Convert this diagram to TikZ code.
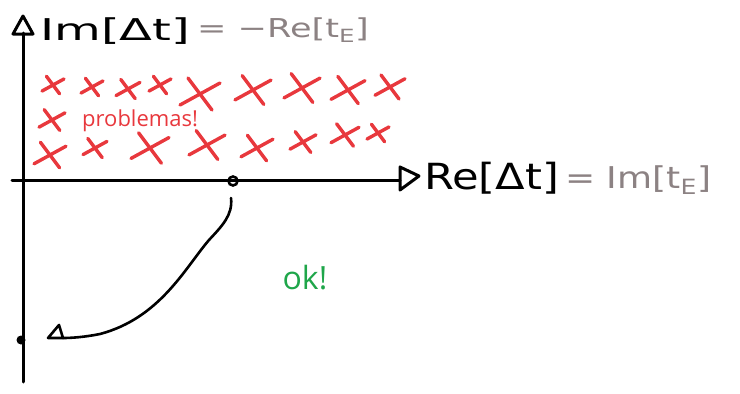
\documentclass[tikz,border=0pt]{standalone}
\usepackage{fontspec}
\setmainfont{DejaVu Sans}
\newfontfamily\labfont{Open Sans}
\definecolor{rx}{HTML}{E8383D}
\definecolor{gr}{HTML}{8C8283}
\definecolor{okg}{HTML}{1FA64A}
\begin{document}
\begin{tikzpicture}[x=1pt,y=-1pt,
  axis/.style={line width=3pt, black, line cap=round, line join=round},
  redx/.style={draw=rx, line width=3.4pt, line cap=round},
  blk/.style={font=\fontsize{30}{30}\selectfont, text=black, inner sep=0pt},
  gry/.style={font=\fontsize{26}{26}\selectfont, text=gr, inner sep=0pt}]
\useasboundingbox (0,0) rectangle (740,394);
% axes
\coordinate (ytop) at (23,33);
\coordinate (ybot) at (23,382);
\coordinate (xl) at (12,180);
\coordinate (xr) at (400,180);
\draw[axis] (ybot) -- (ytop);
\draw[axis] (13,34) -- (23,16) -- (33,34) -- cycle;
\draw[axis] (xl) -- (xr);
\draw[axis] (400,167) -- (419,176) -- (400,190) -- cycle;
% labels
\node[blk, anchor=west] (imlab) at (40,31) {\scalebox{1.6}[1]{Im[Δt]}};
\node[gry, anchor=west] (imeq) at (197,30) {\scalebox{1.35}[1]{= −Re[t\textsubscript{E}]}};
\node[blk, anchor=west, font=\fontsize{36}{36}\selectfont] (relab) at (424,178) {\scalebox{1.2}[1]{Re[Δt]}};
\node[gry, anchor=west, font=\fontsize{30}{30}\selectfont] (reeq) at (565,180) {\scalebox{1.2}[1]{= Im[t\textsubscript{E}]}};
% crosses
\foreach \x/\y/\s in {53/85/11, 92/87/11, 128/89/12, 160/85/11, 200/94/20, 253/90/18, 302/88/18, 348/90/17, 390/87/15,
  52/120/13,
  50/155/16, 95/148/12, 150/148/19, 207/145/18, 257/148/16, 303/142/13, 345/135/14, 378/133/11}
  \draw[redx] (\x-\s,\y+0.55*\s) -- (\x+\s,\y-0.55*\s) (\x-0.6*\s,\y-0.8*\s) -- (\x+0.6*\s,\y+0.8*\s);
\node[text=rx, font=\labfont\fontsize{22}{22}\selectfont, anchor=west, inner sep=0pt] (prob) at (82,121) {problemas!};
\node[text=okg, font=\labfont\fontsize{32}{32}\selectfont, inner sep=0pt] (ok) at (305,278) {ok!};
% markers and path
\node[draw, circle, line width=2.6pt, minimum size=9pt, inner sep=0pt] (start) at (233,181) {};
\node[fill, circle, minimum size=9pt, inner sep=0pt] (end) at (21,340) {};
\coordinate (cs) at (231,198);
\coordinate (ce) at (63,338);
\draw[line width=2.6pt, line cap=round] (cs) .. controls (233,215) and (222,226) .. (209,240)
  .. controls (185,268) and (160,318) .. (100,334) .. controls (85,337) and (72,338) .. (ce);
\draw[line width=2.6pt, line join=round] (ce) -- (48,338) -- (59,325) -- cycle;
\end{tikzpicture}
\end{document}
